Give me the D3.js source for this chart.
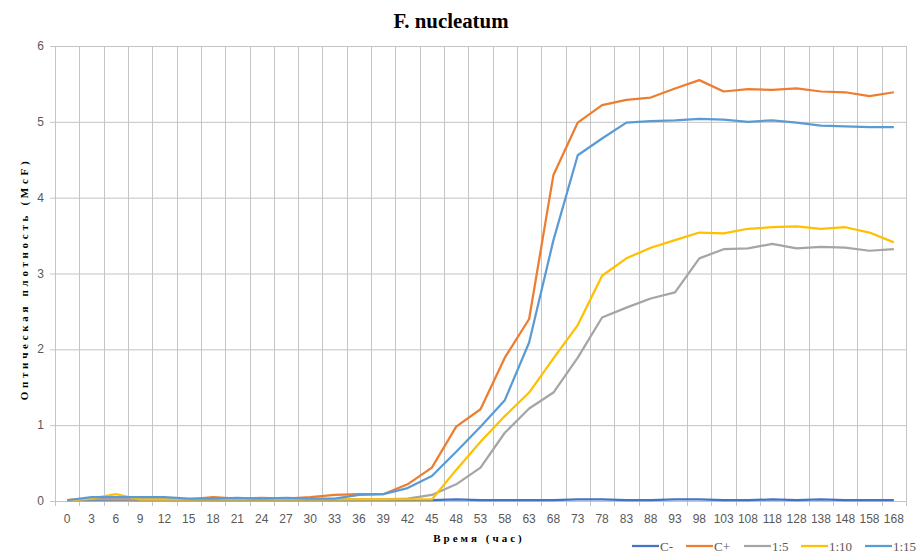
<!DOCTYPE html>
<html>
<head>
<meta charset="UTF-8">
<title>F. nucleatum</title>
<style>
    body { margin: 0; background: #fff; }
    .tick-label { font: 12px "Liberation Sans", sans-serif; fill: #595959; }
    .grid line { stroke: #c4c4c4; stroke-width: 1; }
    .serie { fill: none; stroke-width: 2.25; stroke-linejoin: round; }
</style>
</head>
<body>
<script src="https://cdn.jsdelivr.net/npm/d3@7/dist/d3.min.js"></script>
<script>
    // Données
    var heures = [0,3,6,9,12,15,18,21,24,27,30,33,36,39,42,45,48,53,58,63,68,73,78,83,88,93,98,103,108,118,128,138,148,158,168];
    var yTicks = [0,1,2,3,4,5,6];

    var cMoins = [0.01,0.01,0.01,0.01,0.01,0.01,0.01,0.01,0.01,0.01,0.01,0.01,0.01,0.01,0.01,0.01,0.02,0.01,0.01,0.01,0.01,0.02,0.02,0.01,0.01,0.02,0.02,0.01,0.01,0.02,0.01,0.02,0.01,0.01,0.01];
    var cPlus = [0.01,0.03,0.02,0.02,0.02,0.02,0.05,0.03,0.04,0.03,0.05,0.08,0.09,0.09,0.22,0.44,0.98,1.21,1.89,2.40,4.30,4.99,5.22,5.29,5.32,5.44,5.55,5.40,5.43,5.42,5.44,5.40,5.39,5.34,5.39];
    var dil5 = [0.01,0.02,0.02,0.02,0.02,0.02,0.02,0.02,0.02,0.02,0.02,0.02,0.02,0.02,0.03,0.08,0.22,0.44,0.90,1.22,1.43,1.89,2.42,2.55,2.67,2.75,3.20,3.32,3.33,3.39,3.33,3.35,3.34,3.30,3.32];
    var dil10 = [0.01,0.03,0.09,0.02,0.02,0.02,0.02,0.02,0.02,0.02,0.02,0.02,0.02,0.02,0.02,0.02,0.41,0.78,1.12,1.43,1.88,2.32,2.97,3.20,3.34,3.44,3.54,3.53,3.59,3.61,3.62,3.59,3.61,3.54,3.41];
    var dil15 = [0.01,0.05,0.05,0.05,0.05,0.03,0.03,0.04,0.03,0.04,0.03,0.03,0.08,0.09,0.17,0.33,0.65,0.98,1.33,2.09,3.44,4.56,4.78,4.99,5.01,5.02,5.04,5.03,5.00,5.02,4.99,4.95,4.94,4.93,4.93];

    var noms = ["C-", "C+", "1:5", "1:10", "1:15"];
    var couleurs = ["#4472C4", "#ED7D31", "#A5A5A5", "#FFC000", "#5B9BD5"];
    var series = [cMoins, cPlus, dil5, dil10, dil15];

    var width = 921, height = 555;
    var plot = {left: 55, right: 906, top: 46, bottom: 501};

    var svg = d3.select("body").append("svg")
        .attr("width", width)
        .attr("height", height);

    var x = d3.scaleBand().domain(heures).range([plot.left, plot.right]);
    var y = d3.scaleLinear().domain([0, 6]).range([plot.bottom, plot.top]);
    var cx = function(h) { return x(h) + x.bandwidth() / 2; };

    // grille horizontale
    svg.append("g").attr("class", "grid")
        .selectAll("line").data(yTicks).enter().append("line")
        .attr("x1", plot.left - 5).attr("x2", plot.right)
        .attr("y1", function(d) { return y(d) + 0.5; })
        .attr("y2", function(d) { return y(d) + 0.5; });

    // grille verticale (entre les graduations)
    var bords = heures.map(function(h) { return x(h); }).concat([plot.right]);
    svg.append("g").attr("class", "grid")
        .selectAll("line").data(bords).enter().append("line")
        .attr("x1", function(d) { return Math.round(d) + 0.5; })
        .attr("x2", function(d) { return Math.round(d) + 0.5; })
        .attr("y1", plot.top).attr("y2", plot.bottom + 5);

    // étiquettes axe Y
    svg.append("g").selectAll("text").data(yTicks).enter().append("text")
        .attr("class", "tick-label")
        .attr("x", plot.left - 11)
        .attr("y", function(d) { return y(d) + 4; })
        .attr("text-anchor", "end")
        .text(function(d) { return d; });

    // étiquettes axe X
    svg.append("g").selectAll("text").data(heures).enter().append("text")
        .attr("class", "tick-label")
        .attr("x", cx)
        .attr("y", 523)
        .attr("text-anchor", "middle")
        .text(function(d) { return d; });

    // courbes
    var ligne = d3.line()
        .x(function(d, i) { return cx(heures[i]); })
        .y(function(d) { return y(d); });

    svg.append("g").selectAll("path").data(series).enter().append("path")
        .attr("class", "serie")
        .attr("stroke", function(d, i) { return couleurs[i]; })
        .attr("d", ligne);

    // titre
    svg.append("text")
        .attr("x", 451).attr("y", 28)
        .attr("text-anchor", "middle")
        .attr("textLength", 115)
        .attr("lengthAdjust", "spacingAndGlyphs")
        .style("font", "bold 21px 'Liberation Serif', serif")
        .style("fill", "#000")
        .text("F. nucleatum");

    // titres des axes
    svg.append("text")
        .attr("x", 479).attr("y", 542)
        .attr("text-anchor", "middle")
        .style("font", "bold 11px 'Liberation Serif', serif")
        .style("letter-spacing", "3px")
        .style("fill", "#000")
        .text("Время (час)");

    svg.append("text")
        .attr("transform", "translate(28,279) rotate(-90)")
        .attr("text-anchor", "middle")
        .style("font", "bold 11px 'Liberation Serif', serif")
        .style("letter-spacing", "3.7px")
        .style("fill", "#000")
        .text("Оптическая плотность (McF)");

    // légende
    var legX = [632, 686, 744, 801, 865];
    var leg = svg.append("g").selectAll("g").data(noms).enter().append("g")
        .attr("transform", function(d, i) { return "translate(" + legX[i] + ",546)"; });
    leg.append("line")
        .attr("x1", 0).attr("x2", 27)
        .attr("stroke", function(d, i) { return couleurs[i]; })
        .attr("stroke-width", 2.25);
    leg.append("text")
        .attr("x", 28).attr("y", 4.5)
        .style("font", "13px 'Liberation Serif', serif")
        .style("fill", "#595959")
        .text(function(d) { return d; });
</script>
</body>
</html>
